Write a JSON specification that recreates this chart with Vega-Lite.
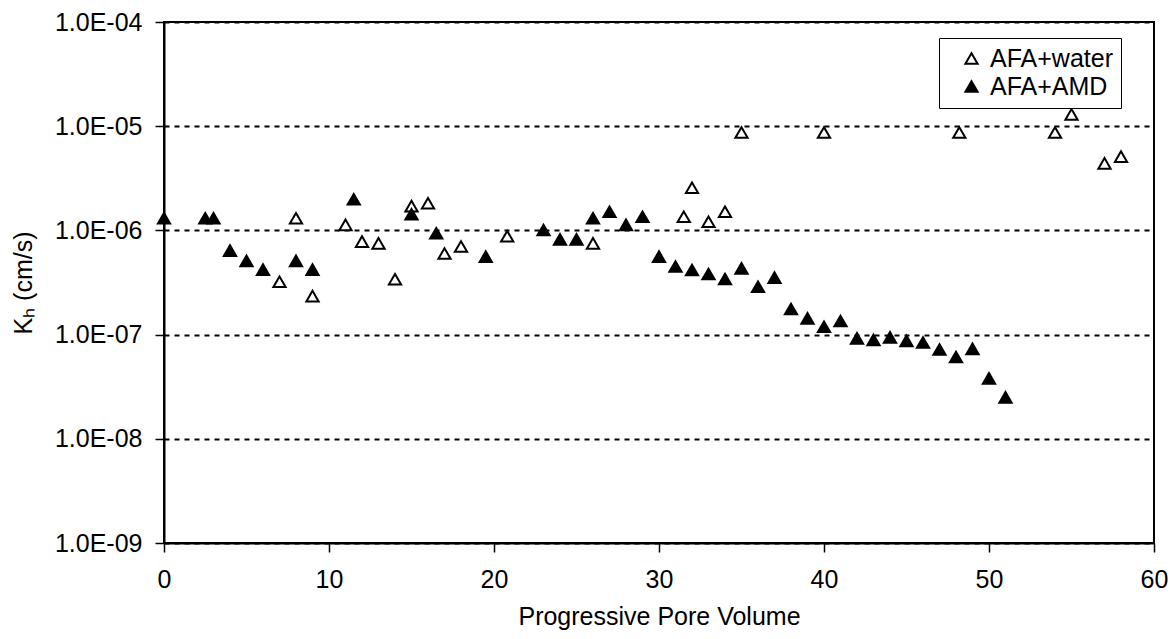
{
  "$schema": "https://vega.github.io/schema/vega-lite/v6.json",
  "width": 990,
  "height": 521,
  "autosize": {"type": "none"},
  "padding": {"left": 164, "top": 22, "right": 21, "bottom": 96},
  "background": "white",
  "config": {
    "font": "Liberation Sans",
    "view": {"stroke": "black", "strokeWidth": 2},
    "axis": {
      "labelFont": "Liberation Sans",
      "titleFont": "Liberation Sans",
      "labelFontSize": 25,
      "titleFontSize": 25,
      "labelColor": "black",
      "titleColor": "black",
      "titleFontWeight": "normal",
      "domainColor": "black",
      "domainWidth": 2,
      "tickColor": "black",
      "tickWidth": 1.5,
      "tickSize": 9
    },
    "legend": {
      "labelFont": "Liberation Sans",
      "labelFontSize": 25,
      "labelColor": "black"
    }
  },
  "data": {
    "values": [
      {"pv": 7, "k": 3.22e-7, "s": "AFA+water"},
      {"pv": 8, "k": 1.31e-6, "s": "AFA+water"},
      {"pv": 9, "k": 2.34e-7, "s": "AFA+water"},
      {"pv": 11, "k": 1.13e-6, "s": "AFA+water"},
      {"pv": 12, "k": 7.8e-7, "s": "AFA+water"},
      {"pv": 13, "k": 7.5e-7, "s": "AFA+water"},
      {"pv": 14, "k": 3.4e-7, "s": "AFA+water"},
      {"pv": 15, "k": 1.71e-6, "s": "AFA+water"},
      {"pv": 16, "k": 1.82e-6, "s": "AFA+water"},
      {"pv": 17, "k": 6.0e-7, "s": "AFA+water"},
      {"pv": 18, "k": 7.0e-7, "s": "AFA+water"},
      {"pv": 20.8, "k": 8.8e-7, "s": "AFA+water"},
      {"pv": 26, "k": 7.5e-7, "s": "AFA+water"},
      {"pv": 31.5, "k": 1.35e-6, "s": "AFA+water"},
      {"pv": 32, "k": 2.57e-6, "s": "AFA+water"},
      {"pv": 33, "k": 1.21e-6, "s": "AFA+water"},
      {"pv": 34, "k": 1.51e-6, "s": "AFA+water"},
      {"pv": 35, "k": 8.7e-6, "s": "AFA+water"},
      {"pv": 40, "k": 8.7e-6, "s": "AFA+water"},
      {"pv": 48.2, "k": 8.7e-6, "s": "AFA+water"},
      {"pv": 54, "k": 8.7e-6, "s": "AFA+water"},
      {"pv": 55, "k": 1.3e-5, "s": "AFA+water"},
      {"pv": 57, "k": 4.4e-6, "s": "AFA+water"},
      {"pv": 58, "k": 5.1e-6, "s": "AFA+water"},
      {"pv": 0, "k": 1.31e-6, "s": "AFA+AMD"},
      {"pv": 2.5, "k": 1.31e-6, "s": "AFA+AMD"},
      {"pv": 3, "k": 1.31e-6, "s": "AFA+AMD"},
      {"pv": 4, "k": 6.4e-7, "s": "AFA+AMD"},
      {"pv": 5, "k": 5.1e-7, "s": "AFA+AMD"},
      {"pv": 6, "k": 4.2e-7, "s": "AFA+AMD"},
      {"pv": 8, "k": 5.1e-7, "s": "AFA+AMD"},
      {"pv": 9, "k": 4.2e-7, "s": "AFA+AMD"},
      {"pv": 11.5, "k": 1.99e-6, "s": "AFA+AMD"},
      {"pv": 15, "k": 1.43e-6, "s": "AFA+AMD"},
      {"pv": 16.5, "k": 9.4e-7, "s": "AFA+AMD"},
      {"pv": 19.5, "k": 5.6e-7, "s": "AFA+AMD"},
      {"pv": 23, "k": 1.01e-6, "s": "AFA+AMD"},
      {"pv": 24, "k": 8.2e-7, "s": "AFA+AMD"},
      {"pv": 25, "k": 8.2e-7, "s": "AFA+AMD"},
      {"pv": 26, "k": 1.31e-6, "s": "AFA+AMD"},
      {"pv": 27, "k": 1.51e-6, "s": "AFA+AMD"},
      {"pv": 28, "k": 1.13e-6, "s": "AFA+AMD"},
      {"pv": 29, "k": 1.35e-6, "s": "AFA+AMD"},
      {"pv": 30, "k": 5.6e-7, "s": "AFA+AMD"},
      {"pv": 31, "k": 4.5e-7, "s": "AFA+AMD"},
      {"pv": 32, "k": 4.17e-7, "s": "AFA+AMD"},
      {"pv": 33, "k": 3.82e-7, "s": "AFA+AMD"},
      {"pv": 34, "k": 3.42e-7, "s": "AFA+AMD"},
      {"pv": 35, "k": 4.32e-7, "s": "AFA+AMD"},
      {"pv": 36, "k": 2.88e-7, "s": "AFA+AMD"},
      {"pv": 37, "k": 3.52e-7, "s": "AFA+AMD"},
      {"pv": 38, "k": 1.76e-7, "s": "AFA+AMD"},
      {"pv": 39, "k": 1.43e-7, "s": "AFA+AMD"},
      {"pv": 40, "k": 1.19e-7, "s": "AFA+AMD"},
      {"pv": 41, "k": 1.35e-7, "s": "AFA+AMD"},
      {"pv": 42, "k": 9.2e-8, "s": "AFA+AMD"},
      {"pv": 43, "k": 8.9e-8, "s": "AFA+AMD"},
      {"pv": 44, "k": 9.4e-8, "s": "AFA+AMD"},
      {"pv": 45, "k": 8.7e-8, "s": "AFA+AMD"},
      {"pv": 46, "k": 8.4e-8, "s": "AFA+AMD"},
      {"pv": 47, "k": 7.2e-8, "s": "AFA+AMD"},
      {"pv": 48, "k": 6.1e-8, "s": "AFA+AMD"},
      {"pv": 49, "k": 7.3e-8, "s": "AFA+AMD"},
      {"pv": 50, "k": 3.8e-8, "s": "AFA+AMD"},
      {"pv": 51, "k": 2.5e-8, "s": "AFA+AMD"}
    ]
  },
  "mark": {"type": "point", "shape": "triangle-up", "filled": false, "stroke": "black", "strokeWidth": 2, "size": 150, "opacity": 1},
  "encoding": {
    "x": {
      "field": "pv",
      "type": "quantitative",
      "scale": {"domain": [0, 60], "nice": false, "zero": false},
      "axis": {
        "title": "Progressive Pore Volume",
        "values": [0, 10, 20, 30, 40, 50, 60],
        "grid": false,
        "labelPadding": 15,
        "titlePadding": 12,
        "labelFlush": false
      }
    },
    "y": {
      "field": "k",
      "type": "quantitative",
      "scale": {"type": "log", "domain": [1e-9, 1e-4], "nice": false},
      "axis": {
        "title": "Kₕ (cm/s)",
        "values": [1e-9, 1e-8, 1e-7, 1e-6, 1e-5, 1e-4],
        "labelExpr": "'1.0E-0' + round(-log(datum.value)/LN10)",
        "grid": true,
        "gridColor": "black",
        "gridDash": [5, 5],
        "gridWidth": 2,
        "labelPadding": 13,
        "titlePadding": 18,
        "labelFlush": false
      }
    },
    "fill": {
      "field": "s",
      "type": "nominal",
      "scale": {"domain": ["AFA+water", "AFA+AMD"], "range": ["white", "black"]},
      "legend": {
        "title": null,
        "orient": "none",
        "legendX": 775,
        "legendY": 16,
        "strokeColor": "black",
        "fillColor": "white",
        "padding": 8,
        "symbolOffset": 12,
        "labelOffset": 6,
        "rowPadding": 2,
        "symbolStrokeColor": "black",
        "symbolStrokeWidth": 2,
        "symbolSize": 150,
        "symbolType": "triangle-up"
      }
    }
  }
}
